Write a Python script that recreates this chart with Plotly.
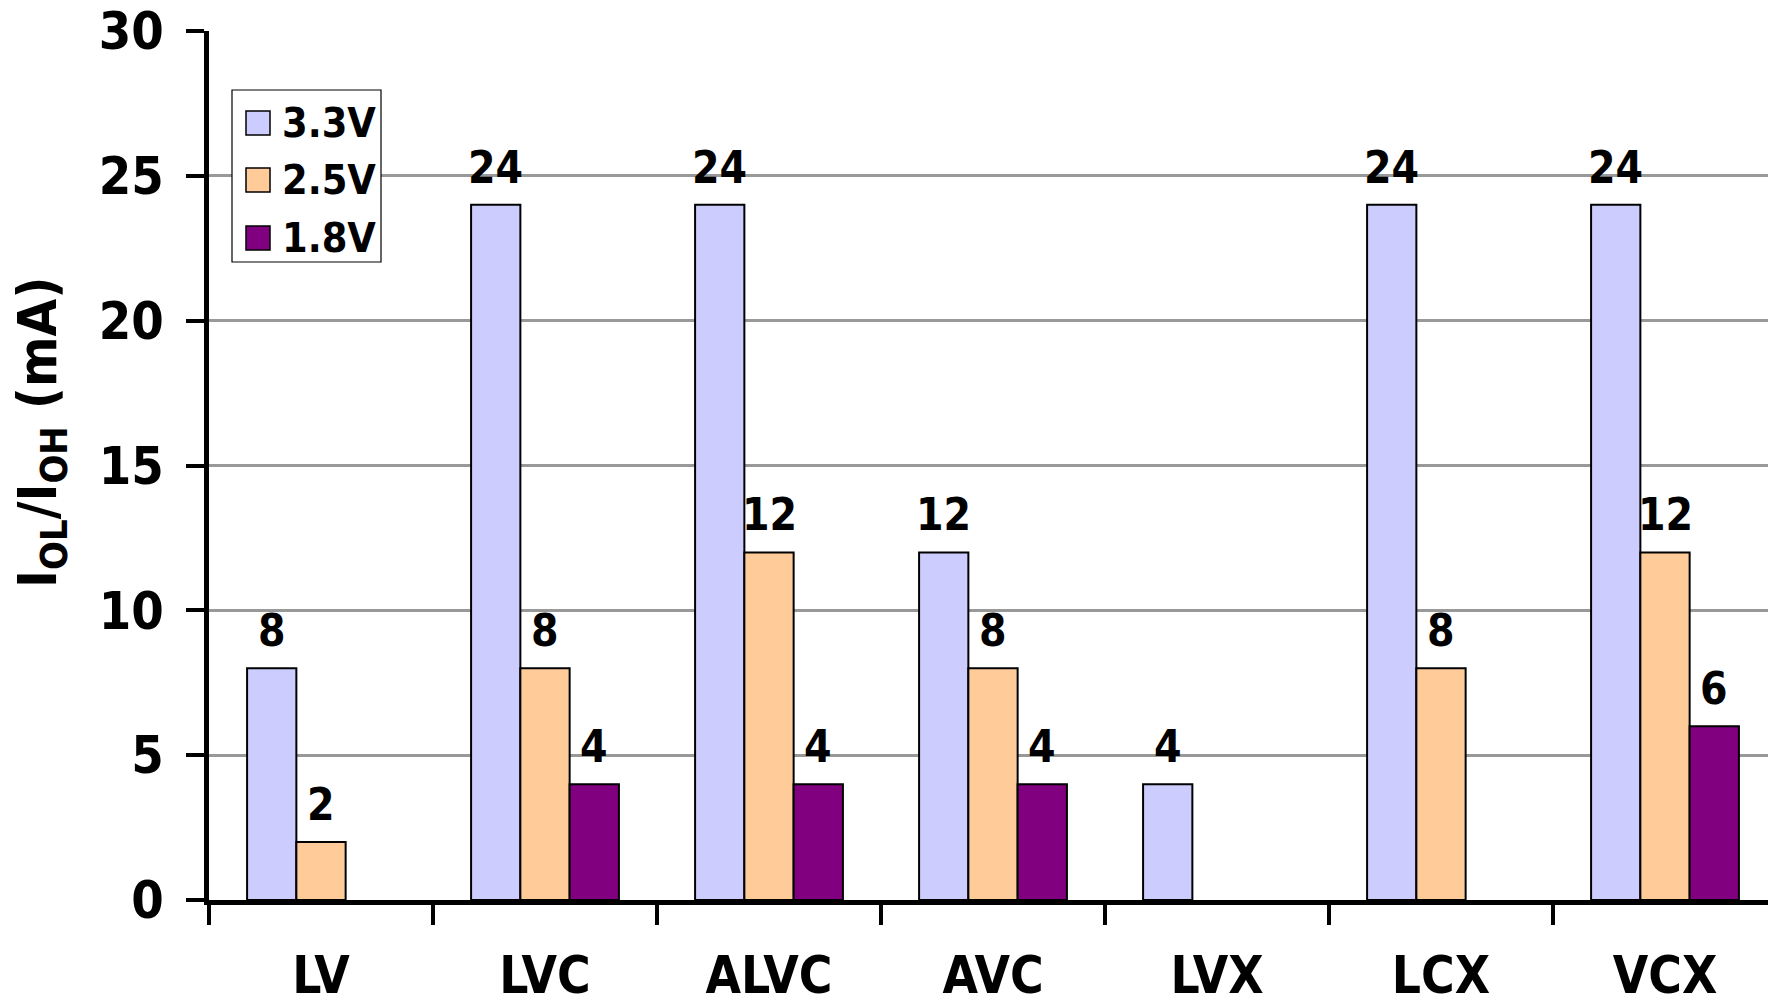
import plotly.graph_objects as go

# Output drive current per logic family and supply voltage
categories = ["LV", "LVC", "ALVC", "AVC", "LVX", "LCX", "VCX"]
series_names = ["3.3V", "2.5V", "1.8V"]
current_33v = [8, 24, 24, 12, 4, 24, 24]
current_25v = [2, 8, 12, 8, None, 8, 12]
current_18v = [None, 4, 4, 4, None, None, 6]
y_ticks = [0, 5, 10, 15, 20, 25, 30]

series_values = [current_33v, current_25v, current_18v]
colors = ["#CCCCFF", "#FFCC99", "#800080"]

FONT = "DejaVu Sans Condensed, DejaVu Sans, sans-serif"
W, H = 1768, 1005
L, T, B, R = 209, 31, 105, 0
PW, PH = W - L - R, H - T - B

BAR_W = 0.22
offsets = [-BAR_W, 0.0, BAR_W]


def px_x(px):
    return (px - L) / PW


def px_y(py):
    return (H - B - py) / PH


fig = go.Figure()
annotations = []

for name, vals, col, off in zip(series_names, series_values, colors, offsets):
    xs = [i + off for i in range(len(categories))]
    fig.add_trace(go.Bar(
        x=xs, y=vals, width=BAR_W, name=name,
        marker=dict(color=col, line=dict(color="black", width=2)),
        showlegend=False,
    ))
    for x, v in zip(xs, vals):
        if v is None:
            continue
        annotations.append(dict(
            x=x, y=v, xref="x", yref="y", text=str(v), showarrow=False,
            xanchor="center", yanchor="bottom", yshift=10,
            font=dict(family=FONT, size=44, color="black", weight="bold"),
        ))

# Y-axis title
annotations.append(dict(
    x=px_x(41), y=px_y(433), xref="paper", yref="paper",
    text="I<sub>OL</sub>/I<sub>OH</sub> (mA)", textangle=-90, showarrow=False,
    xanchor="center", yanchor="middle",
    font=dict(family=FONT, size=54, color="black", weight="bold"),
))

# Legend box with swatches
shapes = [dict(
    type="rect", xref="paper", yref="paper",
    x0=px_x(232), x1=px_x(381), y0=px_y(262), y1=px_y(90),
    line=dict(color="black", width=1.2), fillcolor="white", layer="above",
)]
row_centers = [123, 180, 238]
for name, col, cy in zip(series_names, colors, row_centers):
    shapes.append(dict(
        type="rect", xref="paper", yref="paper",
        x0=px_x(246), x1=px_x(270), y0=px_y(cy + 12), y1=px_y(cy - 12),
        line=dict(color="black", width=1.5), fillcolor=col, layer="above",
    ))
    annotations.append(dict(
        x=px_x(280), y=px_y(cy), xref="paper", yref="paper", text=name,
        showarrow=False, xanchor="left", yanchor="middle",
        font=dict(family=FONT, size=41, color="black", weight="bold"),
    ))

fig.update_layout(
    width=W, height=H,
    margin=dict(l=L, r=R, t=T, b=B, pad=0, autoexpand=False),
    paper_bgcolor="white", plot_bgcolor="white",
    barmode="overlay", showlegend=False,
    annotations=annotations, shapes=shapes,
    xaxis=dict(
        range=[-0.5, -0.5 + PW / 224.0], automargin=False,
        tickmode="array", tickvals=list(range(len(categories))), ticktext=categories,
        ticks="", showgrid=False, zeroline=False,
        showline=True, linecolor="black", linewidth=4.5,
        ticklabelstandoff=27,
        tickfont=dict(family=FONT, size=51, color="black", weight="bold"),
        minor=dict(
            tickmode="array", tickvals=[i - 0.5 for i in range(len(categories) + 1)],
            ticks="outside", ticklen=20, tickwidth=4, tickcolor="black", showgrid=False,
        ),
    ),
    yaxis=dict(
        range=[0, 30], tickmode="array", tickvals=y_ticks, automargin=False,
        ticks="outside", ticklen=18, tickwidth=4, tickcolor="black",
        showline=True, linecolor="black", linewidth=4.5,
        showgrid=True, gridcolor="#999999", gridwidth=2.5, zeroline=False,
        ticklabelstandoff=12,
        tickfont=dict(family=FONT, size=52, color="black", weight="bold"),
    ),
)

fig.write_html("out.html")
